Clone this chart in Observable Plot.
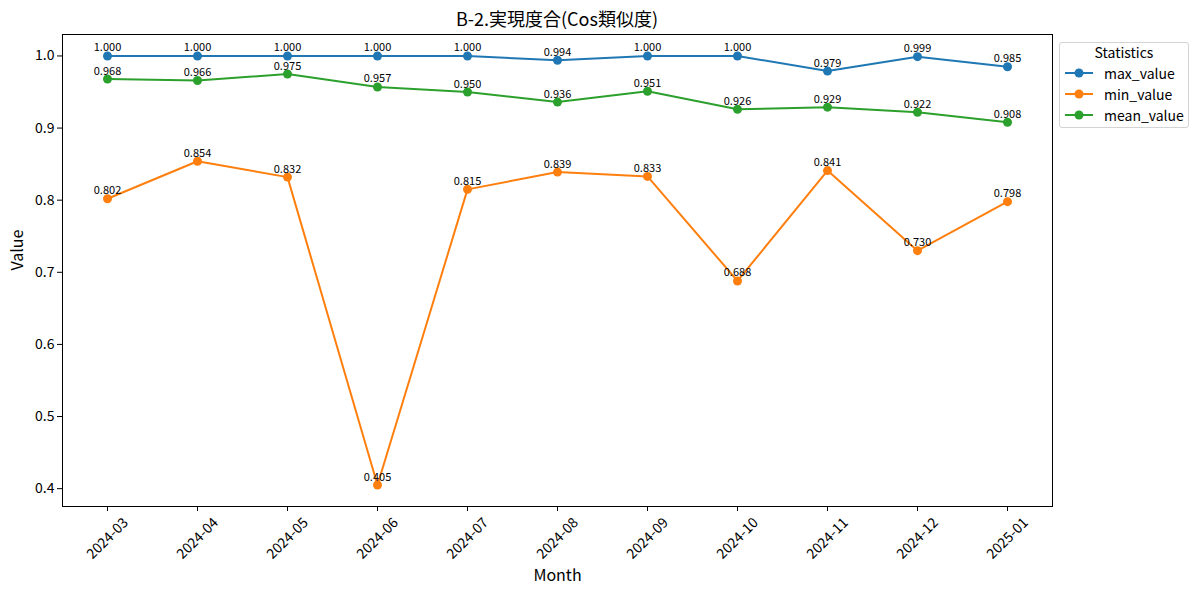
<!DOCTYPE html>
<html>
<head>
<meta charset="utf-8">
<script src="https://cdn.jsdelivr.net/npm/d3@7"></script>
<script src="https://cdn.jsdelivr.net/npm/@observablehq/plot@0.6"></script>
<style>
  html, body { margin: 0; padding: 0; background: #fff; }
  body { font-family: "Noto Sans CJK JP", "Noto Sans", sans-serif; }
  #wrap { position: relative; width: 1200px; height: 595px; overflow: hidden; }
  #title { box-sizing: border-box; height: 28px; padding-top: 8px; margin-left: 62px; width: 990px;
           text-align: center; font-size: 18px; line-height: 20px; color: #000; }
  #legend { position: absolute; left: 1059px; top: 42px; width: 128px; height: 84px;
            border: 1px solid #d3d3d3; border-radius: 3px; background: rgba(255,255,255,0.8);
            font-size: 14px; color: #000; }
  #legend .ttl { text-align: center; line-height: 20px; margin-top: -1px; }
  #legend .row { display: flex; align-items: center; height: 21px; }
  #legend svg { margin-left: 4px; margin-right: 10px; }
</style>
</head>
<body>
<div id="wrap">
  <div id="title">B-2.実現度合(Cos類似度)</div>
  <div id="chart"></div>
  <div id="legend"></div>
</div>
<script>
const months = ["2024-03","2024-04","2024-05","2024-06","2024-07","2024-08","2024-09","2024-10","2024-11","2024-12","2025-01"];
const maxValue  = [1.000, 1.000, 1.000, 1.000, 1.000, 0.994, 1.000, 1.000, 0.979, 0.999, 0.985];
const minValue  = [0.802, 0.854, 0.832, 0.405, 0.815, 0.839, 0.833, 0.688, 0.841, 0.730, 0.798];
const meanValue = [0.968, 0.966, 0.975, 0.957, 0.950, 0.936, 0.951, 0.926, 0.929, 0.922, 0.908];
const seriesNames = ["max_value", "min_value", "mean_value"];
const seriesColors = ["#1f77b4", "#ff7f0e", "#2ca02c"];
const yTicks = [0.4, 0.5, 0.6, 0.7, 0.8, 0.9, 1.0];
const legendTitle = "Statistics";
const xLabel = "Month";
const yLabel = "Value";

const seriesValues = [maxValue, minValue, meanValue];
const data = [];
seriesNames.forEach((s, i) => months.forEach((m, j) => data.push({series: s, month: m, value: seriesValues[i][j]})));

const [lo, hi] = d3.extent(data, d => d.value);
const pad = (hi - lo) * 0.05;

const font = "'Noto Sans CJK JP', 'Noto Sans', sans-serif";

const chart = Plot.plot({
  width: 1200,
  height: 567,
  marginLeft: 62,
  marginRight: 148,
  marginTop: 6,
  marginBottom: 89,
  style: {fontFamily: font, background: "white", color: "#000", overflow: "visible"},
  x: {type: "point", domain: months, padding: 0.5},
  y: {domain: [lo - pad, hi + pad]},
  color: {domain: seriesNames, range: seriesColors},
  marks: [
    Plot.axisY({ticks: yTicks, tickFormat: d3.format(".1f"), tickSize: 5, tickPadding: 3, fontSize: 14, label: null}),
    Plot.axisX({tickSize: 5, tickFormat: () => "", label: null}),
    Plot.text(months, {x: d => d, frameAnchor: "bottom", dy: 32, rotate: -45, fontSize: 14, fill: "#000", textAnchor: "middle", lineAnchor: "middle"}),
    Plot.line(data, {x: "month", y: "value", z: "series", stroke: "series", strokeWidth: 2}),
    Plot.dot(data, {x: "month", y: "value", fill: "series", r: 4.5}),
    Plot.text(data, {x: "month", y: "value", text: d => d.value.toFixed(3), dy: -8, fontSize: 11, fill: "#000"}),
    Plot.frame({stroke: "#000", strokeWidth: 1}),
    Plot.text([yLabel], {frameAnchor: "left", dx: -45, rotate: -90, fontSize: 16, fill: "#000"}),
    Plot.text([xLabel], {frameAnchor: "bottom", dy: 74, fontSize: 16, fill: "#000"})
  ]
});
document.getElementById("chart").appendChild(chart);

const legend = document.getElementById("legend");
const t = document.createElement("div");
t.className = "ttl";
t.textContent = legendTitle;
legend.appendChild(t);
seriesNames.forEach((s, i) => {
  const row = document.createElement("div");
  row.className = "row";
  row.innerHTML = `<svg width="30" height="12"><line x1="1" y1="6" x2="29" y2="6" stroke="${seriesColors[i]}" stroke-width="2"/><circle cx="15" cy="6" r="4.5" fill="${seriesColors[i]}"/></svg><span>${s}</span>`;
  legend.appendChild(row);
});
</script>
</body>
</html>
